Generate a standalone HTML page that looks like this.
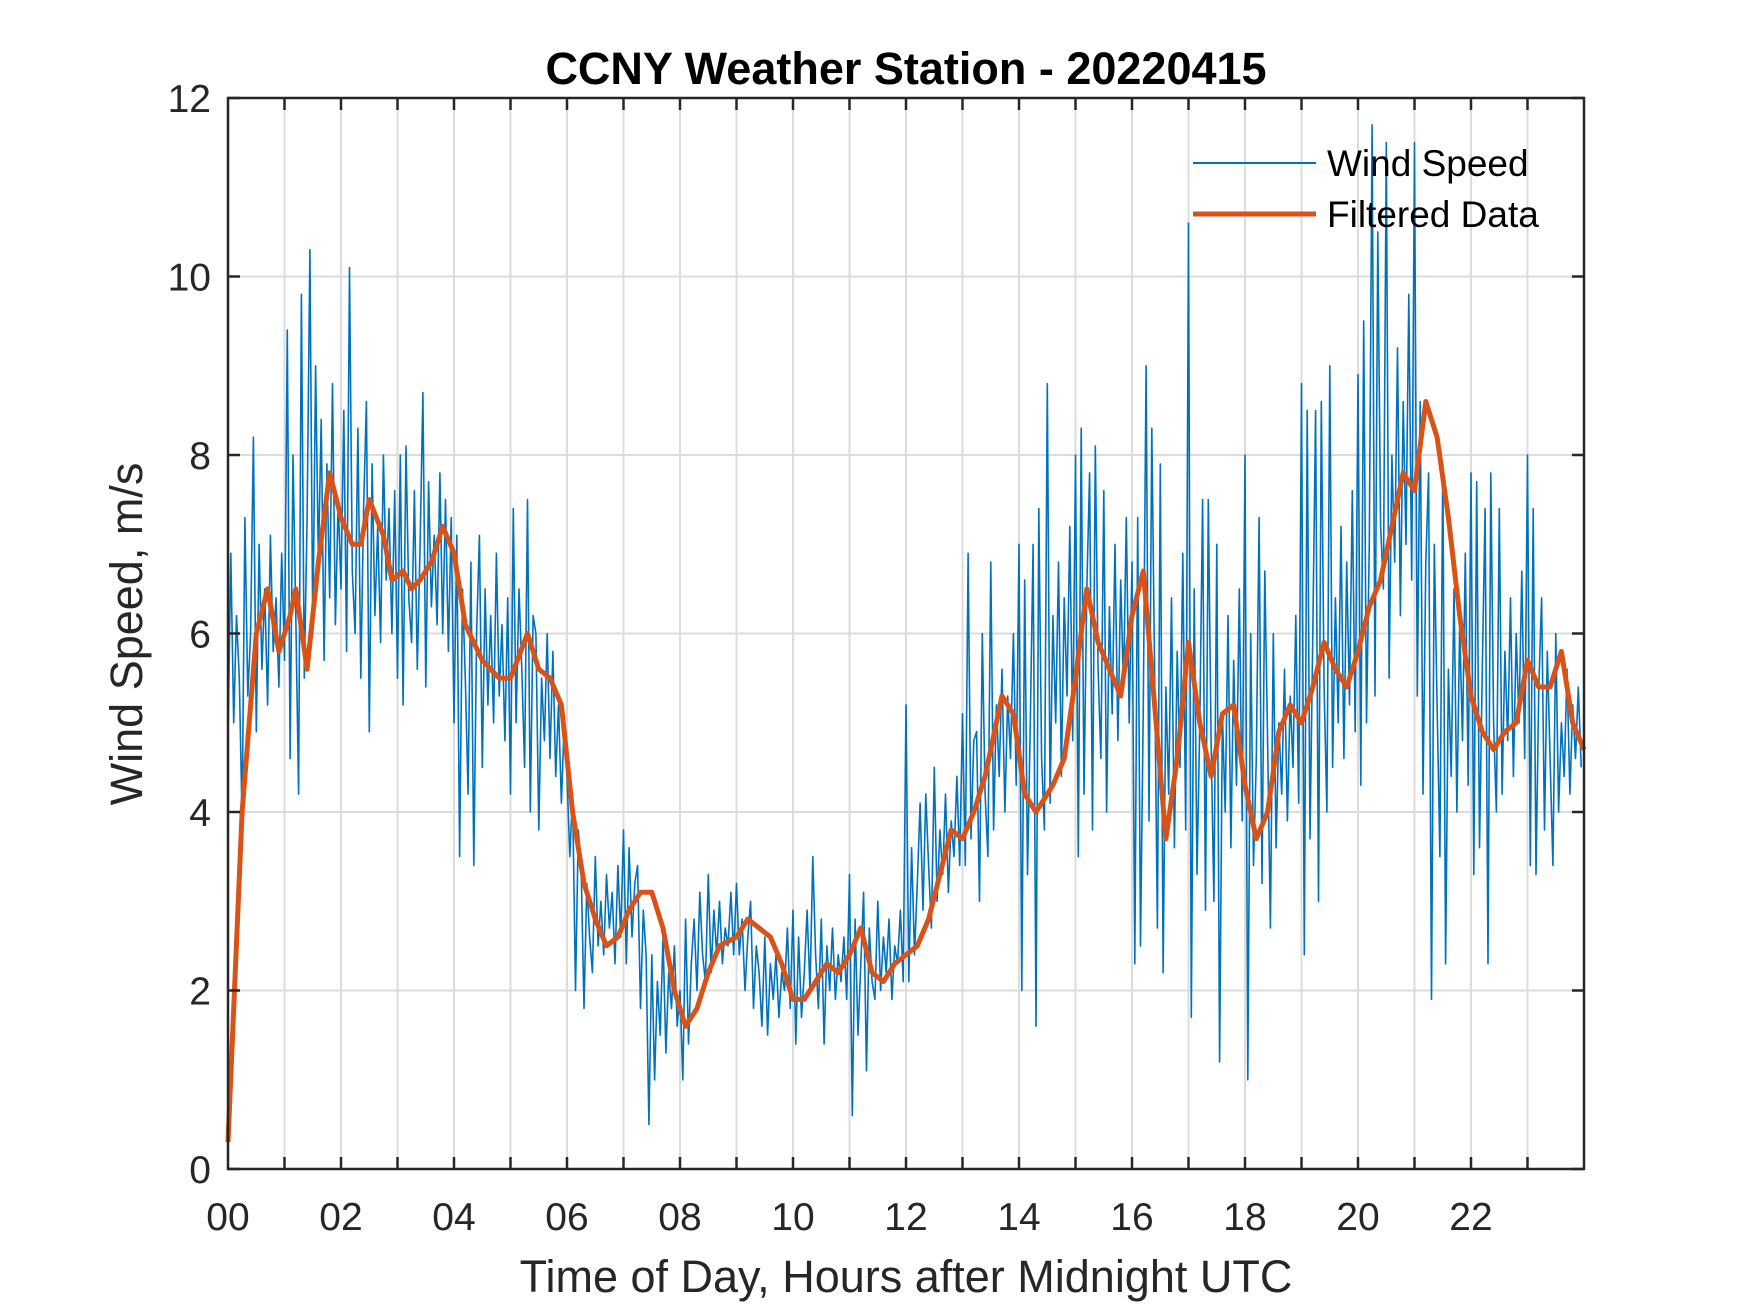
<!DOCTYPE html>
<html><head><meta charset="utf-8"><style>
html,body{margin:0;padding:0;background:#fff;}
svg{display:block;font-family:"Liberation Sans",Arial,sans-serif;}
</style></head><body>
<svg id="chart" width="1750" height="1313" viewBox="0 0 1750 1313" xmlns="http://www.w3.org/2000/svg">
<rect width="1750" height="1313" fill="#fff"/>
<g id="grid"></g>
<g id="series"></g>
<g id="axes"></g>
<text x="906" y="84" text-anchor="middle" font-size="45" font-weight="bold" fill="#000">CCNY Weather Station - 20220415</text>
<text x="906" y="1292" text-anchor="middle" font-size="45" fill="#262626">Time of Day, Hours after Midnight UTC</text>
<text transform="translate(142,634) rotate(-90)" text-anchor="middle" font-size="45" fill="#262626">Wind Speed, m/s</text>
<g>
<line x1="1193" y1="163" x2="1316" y2="163" stroke="#0072BD" stroke-width="2"/>
<text x="1327" y="176" font-size="37" fill="#000">Wind Speed</text>
<line x1="1193" y1="214" x2="1316" y2="214" stroke="#D95319" stroke-width="5"/>
<text x="1327" y="227" font-size="37" fill="#000">Filtered Data</text>
</g>
</svg>
<script>
const xTicks=[0,2,4,6,8,10,12,14,16,18,20,22];
const xTickLabels=["00","02","04","06","08","10","12","14","16","18","20","22"];
const yTicks=[0,2,4,6,8,10,12];
const yTickLabels=["0","2","4","6","8","10","12"];
const windSpeed=[
4.8,6.9,5.0,6.2,5.5,3.9,7.3,5.3,6.0,8.2,4.9,7.0,5.6,6.5,5.2,7.1,5.8,6.4,5.4,6.9,
5.7,9.4,4.6,8.0,6.2,4.2,9.8,5.5,7.3,10.3,6.0,9.0,6.8,8.4,5.7,7.9,6.4,8.8,6.1,7.5,
6.5,8.5,5.8,10.1,6.7,6.0,8.3,5.5,7.4,8.6,4.9,7.9,6.2,7.2,5.9,8.0,6.6,7.4,6.0,7.6,
5.5,8.0,5.2,8.1,6.4,5.9,7.6,5.6,7.0,8.7,5.4,7.7,6.3,7.1,6.1,7.8,6.0,7.5,5.8,7.3,
5.0,7.1,3.5,6.5,5.5,4.2,6.8,3.4,6.0,7.1,4.5,6.5,5.2,6.2,5.0,6.9,5.3,6.1,4.8,6.4,
4.2,7.4,5.0,6.5,5.6,4.5,7.5,4.0,6.2,6.0,3.8,5.5,4.8,6.0,4.6,5.8,4.4,5.2,4.1,5.0,
4.4,3.5,4.2,2.0,3.8,3.4,1.8,3.2,2.6,2.2,3.5,2.5,3.0,2.4,3.3,2.7,3.1,2.3,3.4,2.6,
3.8,2.3,3.6,2.6,3.2,3.4,1.8,2.9,2.4,0.5,2.4,1.0,2.1,1.5,2.6,1.3,2.2,1.8,2.5,1.6,
2.0,1.0,2.8,1.4,2.3,2.8,2.0,3.1,2.4,2.1,3.3,2.2,2.9,2.4,3.0,2.3,2.7,2.5,3.1,2.4,
3.2,2.4,2.8,2.0,2.6,3.0,1.8,2.5,2.2,1.6,2.6,1.5,2.3,1.9,2.4,1.7,2.2,2.0,2.7,1.8,
2.9,1.4,2.6,1.7,2.2,2.9,2.0,3.5,2.4,1.8,2.8,1.4,2.5,2.0,2.7,1.9,2.4,2.1,2.6,1.9,
3.3,0.6,2.8,1.5,2.3,3.1,1.1,2.7,2.1,1.9,3.0,2.0,2.6,2.2,2.8,1.9,2.5,2.3,2.9,2.1,
5.2,2.1,3.6,2.4,3.2,4.1,2.9,4.2,3.4,2.7,4.5,3.0,3.8,3.3,4.2,3.1,3.9,3.5,4.4,3.4,
5.1,3.4,6.9,3.7,4.8,4.9,3.0,6.0,4.2,3.5,6.8,3.8,5.2,4.4,5.6,4.0,5.3,4.6,6.0,4.3,
7.0,2.0,6.6,3.3,5.0,7.0,1.6,7.4,4.6,3.8,8.8,4.1,6.2,5.0,6.8,4.4,6.4,5.3,7.2,4.8,
8.0,3.5,8.3,4.2,6.5,7.8,3.8,8.1,5.6,4.6,7.6,4.0,6.3,5.1,7.0,4.8,6.6,5.4,7.3,5.0,
6.8,2.3,7.3,2.5,5.2,9.0,3.9,8.3,5.6,2.7,7.9,2.2,5.4,4.2,6.4,3.6,5.8,4.5,6.9,3.8,
10.6,1.7,6.5,3.3,5.0,7.5,2.9,7.5,4.8,3.0,7.0,1.2,5.1,4.0,6.2,3.6,5.7,4.3,6.5,3.9,
8.0,1.0,6.0,3.4,4.6,7.3,3.2,6.7,4.8,2.7,6.0,3.6,5.0,4.2,5.6,3.9,5.3,4.5,6.2,4.1,
8.8,2.4,8.5,3.7,6.0,8.5,3.0,8.6,5.4,4.0,9.0,4.5,6.4,5.0,7.2,4.6,6.8,5.2,7.6,4.9,
8.9,4.3,9.5,5.0,7.0,11.7,5.3,10.5,7.2,6.5,11.5,5.5,8.0,6.8,9.2,6.2,8.6,7.0,9.8,6.6,
11.5,5.3,8.6,4.2,6.8,7.8,1.9,7.0,5.2,3.5,7.9,2.3,5.6,4.4,6.5,4.0,6.1,4.8,6.9,4.3,
7.8,3.3,7.7,3.6,5.6,7.4,2.3,7.8,5.0,4.0,7.4,4.2,5.8,4.8,6.4,4.4,6.0,5.0,6.7,4.6,
8.0,3.4,7.4,3.3,5.4,6.4,3.8,5.8,4.6,3.4,6.0,4.0,5.0,4.4,5.6,4.2,5.2,4.6,5.4,4.5];
const filtHours=[0,0.25,0.5,0.7,0.9,1.1,1.2,1.4,1.6,1.8,2.0,2.2,2.35,2.5,2.75,2.9,3.1,3.25,3.4,3.6,3.8,4.0,4.2,4.5,4.8,5.0,5.3,5.5,5.7,5.9,6.1,6.3,6.5,6.7,6.9,7.1,7.3,7.5,7.7,7.9,8.1,8.3,8.5,8.7,9.0,9.2,9.4,9.6,9.8,10.0,10.2,10.4,10.6,10.8,11.0,11.2,11.4,11.6,11.8,12.0,12.2,12.4,12.6,12.8,13.0,13.2,13.4,13.7,13.9,14.1,14.3,14.6,14.8,15.0,15.2,15.4,15.6,15.8,16.0,16.2,16.4,16.6,16.8,17.0,17.2,17.4,17.6,17.8,18.0,18.2,18.4,18.6,18.8,19.0,19.2,19.4,19.6,19.8,20.0,20.2,20.4,20.6,20.8,21.0,21.2,21.4,21.6,21.8,22.0,22.2,22.4,22.6,22.8,23.0,23.2,23.4,23.6,23.8,24];
const filtValues=[0.3,4.0,6.0,6.5,5.8,6.2,6.5,5.6,6.8,7.8,7.3,7.0,7.0,7.5,7.1,6.6,6.7,6.5,6.6,6.8,7.2,6.9,6.1,5.7,5.5,5.5,6.0,5.6,5.5,5.2,4.0,3.2,2.8,2.5,2.6,2.9,3.1,3.1,2.7,2.0,1.6,1.8,2.2,2.5,2.6,2.8,2.7,2.6,2.3,1.9,1.9,2.1,2.3,2.2,2.4,2.7,2.2,2.1,2.3,2.4,2.5,2.8,3.3,3.8,3.7,4.0,4.4,5.3,5.1,4.2,4.0,4.3,4.6,5.5,6.5,5.9,5.6,5.3,6.2,6.7,5.2,3.7,4.6,5.9,5.0,4.4,5.1,5.2,4.3,3.7,4.0,4.9,5.2,5.0,5.4,5.9,5.6,5.4,5.8,6.3,6.6,7.2,7.8,7.6,8.6,8.2,7.3,6.2,5.3,4.9,4.7,4.9,5.0,5.7,5.4,5.4,5.8,5.0,4.7];

const NS="http://www.w3.org/2000/svg";
const L=228,R=1584,T=98,B=1169;
function xs(h){return L+(h/24)*(R-L);}
function ys(v){return B-(v/12)*(B-T);}
function mk(tag,attrs,parent){const e=document.createElementNS(NS,tag);for(const k in attrs)e.setAttribute(k,attrs[k]);parent.appendChild(e);return e;}
const grid=document.getElementById('grid'),series=document.getElementById('series'),axes=document.getElementById('axes');
for(let h=1;h<24;h++){
  const g=mk('line',{x1:xs(h),x2:xs(h),y1:T,y2:B,stroke:'#dcdcdc','stroke-width':2},grid);
  
  
}
yTicks.forEach(v=>{if(v>0&&v<12){
  const g=mk('line',{x1:L,x2:R,y1:ys(v),y2:ys(v),stroke:'#dcdcdc','stroke-width':2},grid);
  
  
}});
let d='';
windSpeed.forEach((v,i)=>{const h=i*24/windSpeed.length;d+=(i?'L':'M')+xs(h).toFixed(1)+','+ys(v).toFixed(1);});
const ws=mk('path',{d:d,fill:'none',stroke:'#0072BD','stroke-width':1.6,'stroke-linejoin':'round'},series);


let d2='';
filtValues.forEach((v,i)=>{d2+=(i?'L':'M')+xs(filtHours[i]).toFixed(1)+','+ys(v).toFixed(1);});
const fl=mk('path',{d:d2,fill:'none',stroke:'#D95319','stroke-width':5,'stroke-linejoin':'round'},series);


const box=mk('rect',{x:L,y:T,width:R-L,height:B-T,fill:'none',stroke:'#262626','stroke-width':2.5},axes);


for(let h=1;h<24;h++){
  mk('line',{x1:xs(h),x2:xs(h),y1:B,y2:B-12,stroke:'#262626','stroke-width':2.5},axes);
  mk('line',{x1:xs(h),x2:xs(h),y1:T,y2:T+12,stroke:'#262626','stroke-width':2.5},axes);
}
xTicks.forEach((h,i)=>{
  const t=mk('text',{x:xs(h),y:1230,'text-anchor':'middle','font-size':39,fill:'#262626'},axes);
  t.textContent=xTickLabels[i];
  
  
});
yTicks.forEach((v,i)=>{
  mk('line',{x1:L,x2:L+12,y1:ys(v),y2:ys(v),stroke:'#262626','stroke-width':2.5},axes);
  mk('line',{x1:R,x2:R-12,y1:ys(v),y2:ys(v),stroke:'#262626','stroke-width':2.5},axes);
  const t=mk('text',{x:211,y:ys(v)+14,'text-anchor':'end','font-size':39,fill:'#262626'},axes);
  t.textContent=yTickLabels[i];
  
  
});
</script>
</body></html>
